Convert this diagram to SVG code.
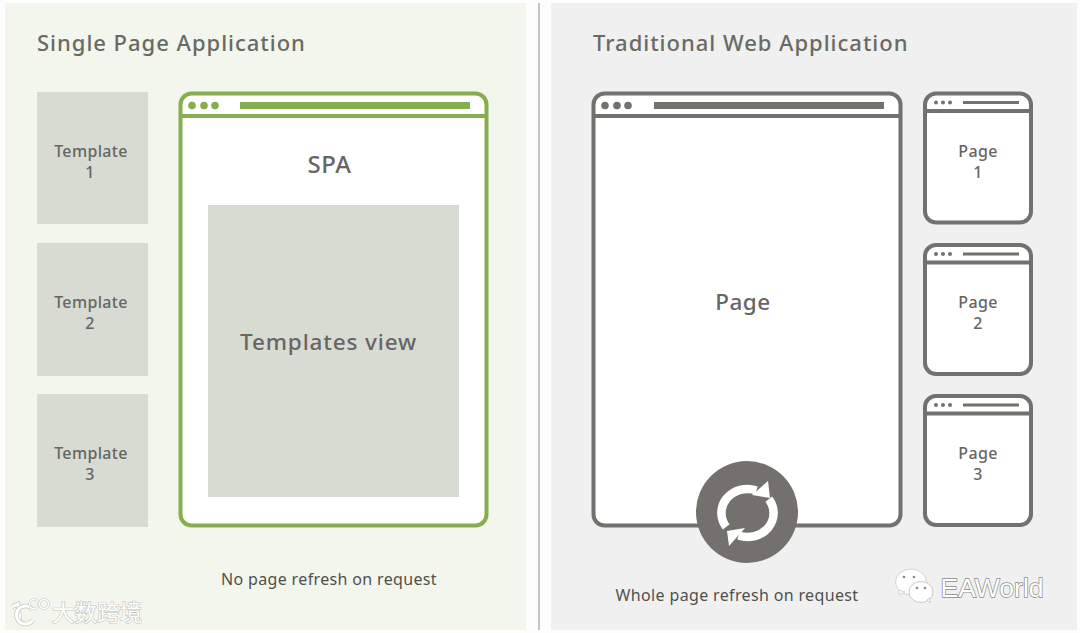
<svg xmlns="http://www.w3.org/2000/svg" width="1080" height="633" viewBox="0 0 1080 633">
<style>
text{font-family:"Noto Sans","Open Sans","Liberation Sans",sans-serif;fill:#666662;text-anchor:middle}
.title{font-size:22px;font-weight:500;letter-spacing:.98px;text-anchor:start;fill:#686a64}
.small{font-size:16px;font-weight:500;letter-spacing:.35px}
.cap{font-size:16px;letter-spacing:.35px;fill:#50504c}
.big{font-size:22.500px;font-weight:500;letter-spacing:.5px}
.tpl{fill:#d8dbd2}
.gframe{fill:#fff;stroke:#86ae4e;stroke-width:4}
.frame{fill:#fff;stroke:#72716d;stroke-width:4}
.gl{stroke:#86ae4e;stroke-width:4;fill:none}
.l{stroke:#72716d;stroke-width:4;fill:none}
.wm{fill:#fff;stroke:#bfc2ba;stroke-width:1.200;paint-order:stroke}
</style>
<rect width="1080" height="633" fill="#fdfdfd"/>
<rect x="5" y="3" width="521" height="627" fill="#f3f6ec"/>
<rect x="551" y="3" width="526" height="627" fill="#f0f0f0"/>
<rect x="538" y="3" width="2" height="627" fill="#c4c4c4"/>

<text class="title" x="37" y="51">Single Page Application</text>
<text class="title" x="593" y="51">Traditional Web Application</text>

<g id="template-1"><rect class="tpl" x="37" y="92" width="111" height="132"/><text class="small" x="91" y="157">Template</text><text class="small" x="90" y="178">1</text></g>
<g id="template-2"><rect class="tpl" x="37" y="243" width="111" height="133"/><text class="small" x="91" y="308">Template</text><text class="small" x="90" y="329">2</text></g>
<g id="template-3"><rect class="tpl" x="37" y="394" width="111" height="133"/><text class="small" x="91" y="459">Template</text><text class="small" x="90" y="480">3</text></g>

<g id="spa-window">
<rect class="gframe" x="180.500" y="93.500" width="306" height="432" rx="11"/>
<path class="gl" d="M181 116H486"/>
<g fill="#86ae4e"><circle cx="192" cy="105.500" r="3.800"/><circle cx="204" cy="105.500" r="3.800"/><circle cx="215" cy="105.500" r="3.800"/><rect x="240" y="102" width="230" height="7"/></g>
<text class="big" x="329.500" y="173" style="font-size:24px">SPA</text>
<rect class="tpl" x="208" y="205" width="251" height="292"/>
<text class="big" x="328.500" y="350" style="letter-spacing:.85px">Templates view</text>
</g>
<text class="cap" x="329" y="585">No page refresh on request</text>

<g id="page-window">
<rect class="frame" x="593.500" y="93.500" width="307" height="432" rx="11"/>
<path class="l" d="M594 116H900"/>
<g fill="#72716d"><circle cx="605" cy="105.500" r="3.800"/><circle cx="617" cy="105.500" r="3.800"/><circle cx="628" cy="105.500" r="3.800"/><rect x="654" y="102" width="230" height="7"/></g>
<text class="big" x="743" y="310">Page</text>
</g>

<g id="page-1">
<rect class="frame" x="925" y="93.500" width="106" height="129" rx="11"/>
<path class="l" d="M925 111H1031"/>
<g fill="#72716d"><circle cx="936" cy="102.500" r="2"/><circle cx="943" cy="102.500" r="2"/><circle cx="950" cy="102.500" r="2"/><rect x="963" y="101" width="56" height="3"/></g>
<text class="small" x="978" y="157">Page</text><text class="small" x="978" y="178">1</text>
</g>
<g id="page-2">
<rect class="frame" x="925" y="245" width="106" height="129" rx="11"/>
<path class="l" d="M925 262.500H1031"/>
<g fill="#72716d"><circle cx="936" cy="254" r="2"/><circle cx="943" cy="254" r="2"/><circle cx="950" cy="254" r="2"/><rect x="963" y="252.500" width="56" height="3"/></g>
<text class="small" x="978" y="308">Page</text><text class="small" x="978" y="329">2</text>
</g>
<g id="page-3">
<rect class="frame" x="925" y="396" width="106" height="129" rx="11"/>
<path class="l" d="M925 413.500H1031"/>
<g fill="#72716d"><circle cx="936" cy="405" r="2"/><circle cx="943" cy="405" r="2"/><circle cx="950" cy="405" r="2"/><rect x="963" y="403.500" width="56" height="3"/></g>
<text class="small" x="978" y="459">Page</text><text class="small" x="978" y="480">3</text>
</g>

<g id="refresh">
<circle cx="747" cy="512" r="51" fill="#72716d"/>
<g fill="none" stroke="#fff" stroke-width="8.500">
<path d="M726.200 526.800A26 24 0 0 1 756.400 490.400"/>
<path d="M768.800 499.200A26 24 0 0 1 738.600 535.600"/>
</g>
<path d="M768 481L770 498L752 495Z" fill="#fff"/>
<path d="M727 531L745 528L729 546Z" fill="#fff"/>
</g>
<text class="cap" x="737" y="601">Whole page refresh on request</text>

<g id="watermark-left" fill="none">
<path d="M12 607L18 604L20 621" stroke="#c6c9c0" stroke-width="4.500"/>
<path d="M12 607L18 604L20 621" stroke="#fff" stroke-width="3"/>
<path d="M33 610A9 9 0 1 0 33 620" stroke="#c6c9c0" stroke-width="4.500"/>
<path d="M33 610A9 9 0 1 0 33 620" stroke="#fff" stroke-width="3"/>
<circle cx="34" cy="604" r="4.500" stroke="#c6c9c0" stroke-width="2.600"/>
<circle cx="34" cy="604" r="4.500" stroke="#fff" stroke-width="1.400"/>
<circle cx="44" cy="604" r="4.500" stroke="#c6c9c0" stroke-width="2.600"/>
<circle cx="44" cy="604" r="4.500" stroke="#fff" stroke-width="1.400"/>
<text x="97" y="621" class="wm" style="font-family:'Noto Sans CJK SC',sans-serif;font-size:22.500px">大数跨境</text>
</g>
<g id="watermark-right">
<ellipse cx="911" cy="582" rx="15.500" ry="13" fill="#fff" stroke="#d2d2d2"/>
<path d="M899 590L899 595L905 592Z" fill="#fff" stroke="#d2d2d2"/>
<ellipse cx="921" cy="592" rx="12" ry="10.500" fill="#fff" stroke="#c8c8c8"/>
<path d="M927 600L930 603L930 598Z" fill="#fff" stroke="#c8c8c8"/>
<g fill="#888"><circle cx="904" cy="577" r="1.300"/><circle cx="914" cy="577" r="1.300"/><circle cx="917" cy="588" r="1.300"/><circle cx="925" cy="588" r="1.300"/></g>
<text x="992" y="597" class="wm" style="font-family:'Liberation Sans',sans-serif;font-size:26.500px;stroke:#8a8a8a;stroke-width:1.400">EAWorld</text>
</g>
</svg>
